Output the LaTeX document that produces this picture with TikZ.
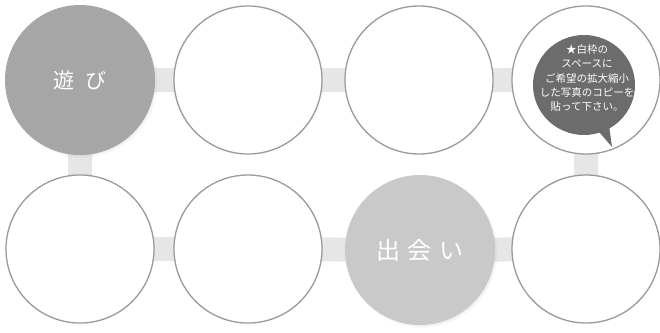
\documentclass[tikz,border=0pt]{standalone}
\usepackage{fontspec}
\newfontfamily\jpfont{Noto Sans CJK JP}
\usepackage{xcolor}
\usetikzlibrary{shapes,shapes.callouts,shadows,backgrounds}

\definecolor{ringgray}{RGB}{154,154,154}
\definecolor{bargray}{RGB}{230,230,230}
\definecolor{playgray}{RGB}{166,166,166}
\definecolor{meetgray}{RGB}{201,201,201}
\definecolor{notegray}{RGB}{108,108,108}

\begin{document}
\begin{tikzpicture}[x=1pt,y=1pt,yscale=-1,xscale=1,
    photo/.style={circle, draw=ringgray, line width=1.3, fill=white, minimum size=148, inner sep=0},
    word/.style={circle, minimum size=150, inner sep=0, text=white,
        circular drop shadow={shadow xshift=1.5pt, shadow yshift=-1.5pt, shadow scale=1.02, opacity=0.35}},
    bar/.style={draw=bargray, line width=24}]
        \useasboundingbox (0,0) rectangle (660,332);

        % Top row
        \node [word, fill=playgray, font=\jpfont\fontsize{21}{21}\selectfont] (p1) at (80,80) {遊\hspace{12pt}び};
        \node [photo] (p2) at (248,80) {};
        \node [photo] (p3) at (419,80) {};
        \node [photo] (p4) at (586,80) {};

        % Bottom row
        \node [photo] (q1) at (80,249) {};
        \node [photo] (q2) at (248,249) {};
        \node [word, fill=meetgray, font=\jpfont\fontsize{24}{24}\selectfont] (q3) at (420,250) {出\hspace{8pt}会\hspace{8pt}い};
        \node [photo] (q4) at (586,249) {};

        % Text Node
        \node [ellipse callout, fill=notegray, minimum width=102, minimum height=100, inner sep=0,
            callout absolute pointer={(612,147)}, callout pointer arc=12] (note) at (584,85) {};
        \node [text=white, align=center, inner sep=0,
            font=\jpfont\fontsize{10.5}{14.2}\selectfont] (notetext) at (587,78)
            {★白枠の\\スペースに\\ご希望の拡大縮小\\した写真のコピーを\\貼って下さい。};

        %Straight Lines
        \begin{pgfonlayer}{background}
            \draw [bar] (p1.center) -- (p2.center) -- (p3.center) -- (p4.center) -- (q4.center)
                -- (q3.center) -- (q2.center) -- (q1.center) -- cycle;
        \end{pgfonlayer}

\end{tikzpicture}
\end{document}
